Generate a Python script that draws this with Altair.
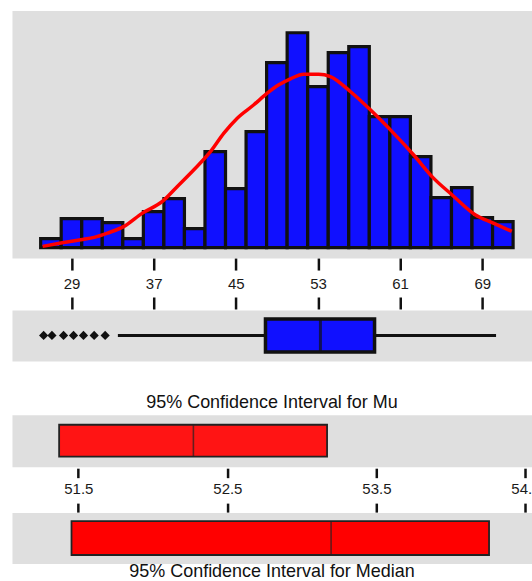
import altair as alt
import pandas as pd

# ---------------- data ----------------
BIN_LEFT = [26, 28, 30, 32, 34, 36, 38, 40, 42, 44, 46, 48, 50, 52, 54, 56, 58, 60, 62, 64, 66, 68, 70]
BIN_RIGHT = [28, 30, 32, 34, 36, 38, 40, 42, 44, 46, 48, 50, 52, 54, 56, 58, 60, 62, 64, 66, 68, 70, 72]
FREQ = [0.9, 2.9, 2.9, 2.5, 0.9, 3.6, 4.9, 1.9, 9.6, 5.9, 11.6, 18.5,
        21.5, 16.1, 19.5, 20.1, 13.1, 13.1, 9.1, 5.0, 6.0, 3.0, 2.6]

CURVE_X = [26.19, 27.97, 29.91, 31.21, 32.51, 34.12, 35.91, 37.85, 39.31, 40.92,
           42.55, 43.84, 45.14, 46.76, 48.06, 49.19, 50.32, 51.61, 53.07, 54.21,
           56.15, 58.10, 60.36, 62.30, 64.25, 66.04, 68.30, 70.08, 71.87]
CURVE_Y = [0.12, 0.45, 0.79, 1.02, 1.45, 2.12, 3.45, 4.62, 6.12, 7.79,
           9.62, 11.45, 12.95, 14.29, 15.45, 16.29, 16.89, 17.35, 17.35, 17.12,
           15.62, 13.79, 11.45, 9.29, 6.95, 5.29, 3.29, 2.45, 1.62]

OUTLIERS = [26.29, 27.10, 28.23, 29.20, 30.17, 31.21, 32.28]
BOX_LOWER = [33.52]
BOX_Q1 = [47.89]
BOX_MEDIAN = [53.24]
BOX_Q3 = [58.51]
BOX_UPPER = [70.34]

MU_CI = [51.371, 52.272, 53.169]       # lower, mean, upper
MEDIAN_CI = [51.454, 53.196, 54.256]   # lower, median, upper

HIST_TICKS = [29, 37, 45, 53, 61, 69]
CI_TICKS = [51.5, 52.5, 53.5, 54.5]

MU_TITLE = "95% Confidence Interval for Mu"
MEDIAN_TITLE = "95% Confidence Interval for Median"

# ---------------- styling ----------------
FONT = "Liberation Sans"
GRAY = "#dfdfdf"
BLUE = "#1010ff"
DARK = "#111111"
W = 521
HIST_DOMAIN = [23.208, 73.84]
CI_DOMAIN = [51.0546, 54.5442]

hist_df = pd.DataFrame({"lo": BIN_LEFT, "hi": BIN_RIGHT, "freq": FREQ})
curve_df = pd.DataFrame({"x": CURVE_X, "y": CURVE_Y})
box_df = pd.DataFrame({"row": ["box"], "lower": BOX_LOWER, "q1": BOX_Q1,
                       "median": BOX_MEDIAN, "q3": BOX_Q3, "upper": BOX_UPPER})
out_df = pd.DataFrame({"row": ["box"] * len(OUTLIERS), "v": OUTLIERS})
mu_df = pd.DataFrame({"row": ["ci"], "lo": [MU_CI[0]], "mid": [MU_CI[1]], "hi": [MU_CI[2]]})
med_df = pd.DataFrame({"row": ["ci"], "lo": [MEDIAN_CI[0]], "mid": [MEDIAN_CI[1]], "hi": [MEDIAN_CI[2]]})

panel_bg = alt.ViewBackground(fill=GRAY, stroke="transparent")
clear_bg = alt.ViewBackground(fill="transparent", stroke="transparent")
yh_scale = alt.Scale(domain=[-1.05, 23.72], nice=False, zero=False)
row_y = alt.Y("row:N", axis=None)

hist_axis = alt.Axis(values=HIST_TICKS, orient="bottom", domain=False, grid=False,
                     tickSize=12, tickWidth=2.5, tickColor=DARK, offset=0,
                     labelFont=FONT, labelFontSize=15, labelColor="#1a1a1a",
                     labelBaseline="alphabetic", labelPadding=18.6, title="")
box_axis = alt.Axis(values=HIST_TICKS, orient="top", domain=False, grid=False,
                    labels=False, tickSize=12, tickWidth=2.5, tickColor=DARK,
                    offset=1, title="")
mu_axis = alt.Axis(values=CI_TICKS, orient="bottom", domain=False, grid=False,
                   tickSize=9.5, tickWidth=2.5, tickColor=DARK, offset=1.5,
                   labelFont=FONT, labelFontSize=15, labelColor="#1a1a1a",
                   labelBaseline="alphabetic", labelPadding=16.3, format=".1f",
                   title="")
med_axis = alt.Axis(values=CI_TICKS, orient="top", domain=False, grid=False,
                    labels=False, tickSize=9, tickWidth=2.5, tickColor=DARK,
                    offset=0.5, title="")


def xh(field, axis):
    return alt.X(field, scale=alt.Scale(domain=HIST_DOMAIN, nice=False, zero=False), axis=axis)


def xc(field, axis):
    return alt.X(field, scale=alt.Scale(domain=CI_DOMAIN, nice=False, zero=False), axis=axis)


# ---- histogram with fitted curve ----
bars = alt.Chart(hist_df).mark_bar(color=BLUE, stroke=DARK, strokeWidth=3.2).encode(
    x=xh("lo:Q", hist_axis),
    x2="hi:Q",
    y=alt.Y("freq:Q", scale=yh_scale, axis=None),
    y2=alt.datum(0),
)
curve = alt.Chart(curve_df).mark_line(color="#ff0000", strokeWidth=3.5, interpolate="monotone").encode(
    x=xh("x:Q", hist_axis),
    y=alt.Y("y:Q", scale=yh_scale, axis=None),
)
hist = alt.layer(bars, curve).properties(width=W, height=248, view=panel_bg)

# ---- box plot ----
whisker = alt.Chart(box_df).mark_rule(color=DARK, strokeWidth=3).encode(
    x=xh("lower:Q", box_axis), x2="upper:Q", y=row_y)
box = alt.Chart(box_df).mark_bar(size=33, color=BLUE, stroke=DARK, strokeWidth=3.5).encode(
    x=xh("q1:Q", box_axis), x2="q3:Q", y=row_y)
med_line = alt.Chart(box_df).mark_tick(size=31, thickness=3, color=DARK).encode(
    x=xh("median:Q", box_axis), y=row_y)
outliers = alt.Chart(out_df).mark_point(shape="diamond", filled=True, color=DARK,
                                         size=85, opacity=1).encode(
    x=xh("v:Q", box_axis), y=row_y)
boxplot = alt.layer(whisker, box, med_line, outliers).properties(width=W, height=51, view=panel_bg)

# ---- confidence intervals ----
mu_box = alt.Chart(mu_df).mark_bar(size=32, color="#ff1414", stroke="#222222", strokeWidth=1.8).encode(
    x=xc("lo:Q", mu_axis), x2="hi:Q", y=row_y)
mu_mid = alt.Chart(mu_df).mark_tick(size=31, thickness=1.6, color="#222222").encode(
    x=xc("mid:Q", mu_axis), y=row_y)
mu_panel = alt.layer(mu_box, mu_mid).properties(
    width=W, height=52, view=panel_bg,
    title=alt.TitleParams(MU_TITLE, orient="top", anchor="middle", frame="group",
                          baseline="alphabetic", offset=-11, font=FONT, fontSize=18,
                          fontWeight="normal", color=DARK))

med_box = alt.Chart(med_df).mark_bar(size=34, color="#ff0000", stroke="#222222", strokeWidth=1.8).encode(
    x=xc("lo:Q", med_axis), x2="hi:Q", y=row_y)
med_mid = alt.Chart(med_df).mark_tick(size=33, thickness=1.6, color="#222222").encode(
    x=xc("mid:Q", med_axis), y=row_y)
med_panel = alt.layer(med_box, med_mid).properties(
    width=W, height=51, view=panel_bg,
    title=alt.TitleParams(MEDIAN_TITLE, orient="bottom", anchor="middle", frame="group",
                          baseline="alphabetic", offset=14, font=FONT, fontSize=18,
                          fontWeight="normal", color=DARK))


def spacer(h):
    """Empty transparent panel used to set the gaps between the gray panels."""
    return alt.Chart(pd.DataFrame({"s": [0]})).mark_point(opacity=0).encode(
        x=alt.X("s:Q", axis=None), y=alt.Y("s:Q", axis=None)
    ).properties(width=W, height=h, view=clear_bg)


chart = alt.vconcat(
    hist, spacer(52), boxplot, spacer(54), mu_panel, spacer(46), med_panel,
    spacing=0, bounds="flush",
).resolve_scale(
    x="independent", y="independent"
).resolve_axis(
    x="independent", y="independent"
).properties(
    # the last CI tick label runs past the right edge in the reference, so the
    # canvas is trimmed on the right to keep the page 532 px wide
    padding={"left": 11, "top": 9, "right": -9, "bottom": 18},
    background="white",
).configure_view(stroke="transparent")

chart.save("out.html", embed_options={"renderer": "svg", "actions": False})
